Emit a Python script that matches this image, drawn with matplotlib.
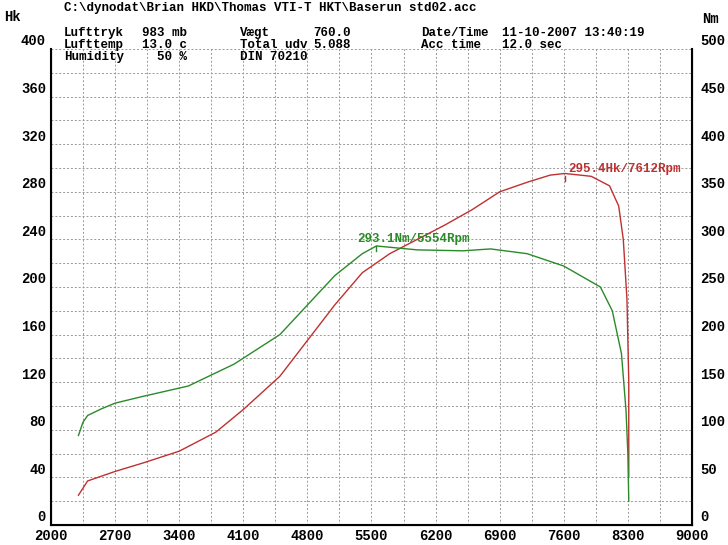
import matplotlib
matplotlib.use("Agg")
import matplotlib.pyplot as plt
import matplotlib.transforms as mtrans
import numpy as np

rpm_p = [2300, 2400, 2700, 3000, 3400, 3800, 4100, 4500, 4800, 5100, 5400, 5700, 6000, 6300, 6600, 6900, 7200, 7450, 7612, 7900, 8100, 8200, 8250, 8290, 8310, 8310]
hk = [25, 37, 45, 52, 62, 78, 97, 125, 155, 185, 212, 228, 240, 252, 265, 280, 288, 294, 295.4, 293, 285, 268, 240, 190, 120, 40]
rpm_t = [2300, 2350, 2400, 2550, 2700, 3000, 3500, 4000, 4500, 4800, 5100, 5400, 5554, 6000, 6500, 6800, 7200, 7600, 8000, 8130, 8230, 8280, 8300, 8310]
nm = [94, 108, 115, 122, 128, 135, 146, 169, 200, 231, 262, 285, 293.1, 289, 288, 290, 285, 272, 250, 225, 180, 120, 75, 25]
xticks = [2000, 2700, 3400, 4100, 4800, 5500, 6200, 6900, 7600, 8300, 9000]

fig = plt.figure(figsize=(7.28, 5.45), dpi=100)
ax = fig.add_axes([0.070, 0.0367, 0.8805, 0.8734])
mono = {'family': 'Liberation Mono', 'weight': 'bold'}
ax.set_xlim(2000, 9000)
ax.set_ylim(0, 400)
ax.set_xticks(xticks)
ax.set_xticks(np.arange(2000, 9001, 350), minor=True)
ax.set_yticks(np.arange(0, 401, 40))
ax.set_yticks(np.arange(0, 381, 20), minor=True)
ax.grid(True, which='both', color='#999999', linestyle=(0, (2, 2)), linewidth=0.7)
ax.tick_params(which='both', length=0, labelsize=10)
ax.tick_params(axis='x', pad=3)
off = mtrans.ScaledTranslation(0, 9/100, fig.dpi_scale_trans)
for l in ax.get_xticklabels() + ax.get_yticklabels():
    l.set_fontfamily('Liberation Mono'); l.set_fontweight('bold')
for l in ax.get_yticklabels():
    l.set_transform(l.get_transform() + off)
ax.spines['top'].set_visible(False)
for s in ['left', 'right', 'bottom']:
    ax.spines[s].set_linewidth(1.5)
ax.plot(rpm_p, hk, color='#c03030', lw=1)
ax2 = ax.twinx()
ax2.set_ylim(0, 500)
ax2.set_yticks(np.arange(0, 501, 50))
ax2.tick_params(length=0, labelsize=10, pad=6)
for l in ax2.get_yticklabels():
    l.set_fontfamily('Liberation Mono'); l.set_fontweight('bold')
    l.set_transform(l.get_transform() + off)
ax2.spines['top'].set_visible(False)
ax2.plot(rpm_t, nm, color='#2a8a2a', lw=1)
ax.plot([7612, 7612], [289, 293], color='#c03030', lw=1)
ax.text(7650, 297, '295.4Hk/7612Rpm', color='#c03030', fontsize=9, **mono)
ax2.plot([5554, 5554], [288, 293], color='#2a8a2a', lw=1)
ax2.text(5350, 297, '293.1Nm/5554Rpm', color='#2a8a2a', fontsize=9, **mono)

fig.text(0.005, 0.968, 'Hk', fontsize=10, va='center', **mono)
fig.text(0.965, 0.965, 'Nm', fontsize=10, va='center', **mono)
fs = 9
fig.text(0.088, 0.985, r'C:\dynodat\Brian HKD\Thomas VTI-T HKT\Baserun std02.acc', fontsize=fs, va='center', **mono)
rows = [0.940, 0.918, 0.896]
cols = [
    (0.088, ['Lufttryk', 'Lufttemp', 'Humidity']),
    (0.195, ['983 mb', '13.0 c', '  50 %']),
    (0.330, ['Vægt', 'Total udv', 'DIN 70210']),
    (0.430, ['760.0', '5.088', '']),
    (0.578, ['Date/Time', 'Acc time', '']),
    (0.690, ['11-10-2007 13:40:19', '12.0 sec', '']),
]
for x, txts in cols:
    for y, t in zip(rows, txts):
        fig.text(x, y, t, fontsize=fs, va='center', **mono)
fig.savefig('out.png', dpi=100)
